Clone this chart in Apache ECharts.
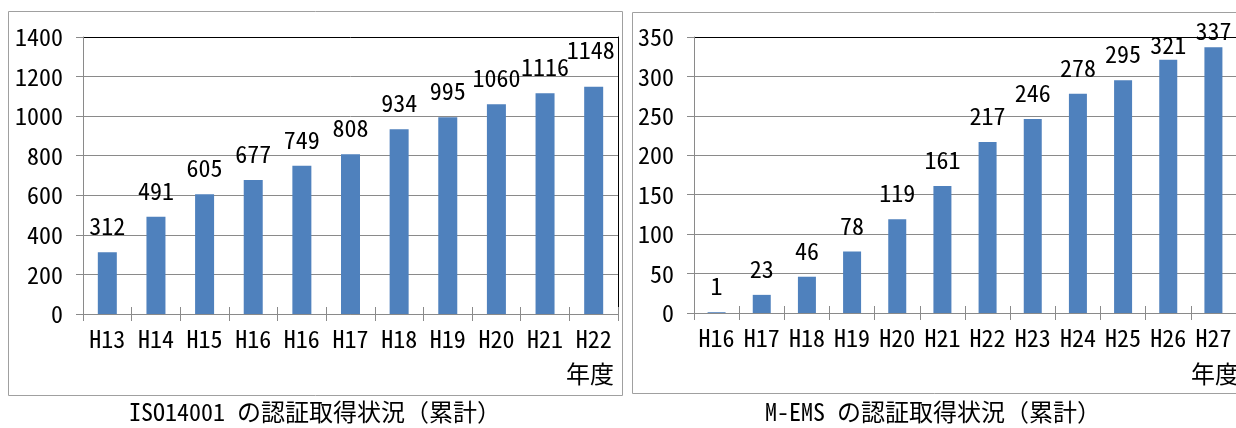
<!DOCTYPE html>
<html>
<head>
<meta charset="utf-8">
<script src="https://cdn.jsdelivr.net/npm/echarts@6/dist/echarts.min.js"></script>
<style>
html,body{margin:0;padding:0;background:#fff;}
#c{width:1236px;height:428px;}
</style>
</head>
<body>
<div id="c"></div>
<script>
// ---- data ----
const isoCategories = ['H13','H14','H15','H16','H16','H17','H18','H19','H20','H21','H22'];
const isoValues = [312, 491, 605, 677, 749, 808, 934, 995, 1060, 1116, 1148];
const isoTicks = [0, 200, 400, 600, 800, 1000, 1200, 1400];

const memsCategories = ['H16','H17','H18','H19','H20','H21','H22','H23','H24','H25','H26','H27'];
const memsValues = [1, 23, 46, 78, 119, 161, 217, 246, 278, 295, 321, 337];
const memsTicks = [0, 50, 100, 150, 200, 250, 300, 350];

const isoTitle = 'ISO14001 の認証取得状況（累計）';
const memsTitle = 'M-EMS の認証取得状況（累計）';
const unitName = '年度';

// ---- styling ----
const FONT = "'Noto Sans Mono CJK JP', 'DejaVu Sans Condensed', 'Noto Sans CJK JP', sans-serif";
const FS = 24;
const BAR = '#4F81BD';
const GRID_C = '#8a8a8a';

function splitColors(n) {
  const arr = [];
  for (let i = 0; i < n; i++) arr.push(i === n - 1 ? '#000000' : GRID_C);
  return arr;
}

function buildSeriesData(values, overrides) {
  return values.map((v, i) => {
    const o = overrides[i];
    return o ? { value: v, label: { offset: o } } : v;
  });
}

const chart = echarts.init(document.getElementById('c'), null, { renderer: 'canvas' });

const grids = [
  { left: 83, top: 37, width: 535, height: 277 },
  { left: 694, top: 37, width: 546, height: 276 }
];

function xAxes(gi, cats) {
  return [
    {
      type: 'category', gridIndex: gi, data: cats, position: 'bottom',
      axisLine: { show: true, lineStyle: { color: GRID_C, width: 1 } },
      axisTick: { show: true, length: 7, lineStyle: { color: GRID_C } },
      axisLabel: { color: '#000', fontSize: FS, fontFamily: FONT, margin: 13, interval: 0 }
    },
    {
      type: 'category', gridIndex: gi, data: cats, position: 'top',
      offset: -grids[gi].height,
      axisLine: { show: false },
      axisTick: { show: true, length: 7, lineStyle: { color: GRID_C } },
      axisLabel: { show: false }
    }
  ];
}

function yAxes(gi, ticks) {
  const step = ticks[1] - ticks[0];
  return [
    {
      type: 'value', gridIndex: gi, position: 'left',
      min: ticks[0], max: ticks[ticks.length - 1], interval: step,
      axisLine: { show: true, lineStyle: { color: GRID_C, width: 1 } },
      axisTick: { show: true, length: 7, lineStyle: { color: GRID_C } },
      axisLabel: { color: '#000', fontSize: FS, fontFamily: FONT, margin: 20,
        formatter: (v) => String(v) },
      splitLine: { show: true, lineStyle: { color: splitColors(ticks.length), width: 1 } }
    },
    {
      type: 'value', gridIndex: gi, position: 'right',
      min: ticks[0], max: ticks[ticks.length - 1], interval: step,
      axisLine: { show: true, lineStyle: { color: '#000', width: 1 } },
      axisTick: { show: false }, axisLabel: { show: false }, splitLine: { show: false }
    }
  ];
}

const labelStyle = {
  show: true, position: 'top', distance: 14,
  color: '#000', fontSize: FS, fontFamily: FONT,
  formatter: (p) => String(p.value)
};

const titleText = { fontSize: 24, fontWeight: 'normal', color: '#000', fontFamily: FONT };

const option = {
  animation: false,
  backgroundColor: '#ffffff',
  grid: grids,
  xAxis: [...xAxes(0, isoCategories), ...xAxes(1, memsCategories)],
  yAxis: [...yAxes(0, isoTicks), ...yAxes(1, memsTicks)],
  title: [
    { text: isoTitle, left: 315, top: 400, padding: 0, textAlign: 'center', textStyle: titleText },
    { text: memsTitle, left: 933, top: 400, padding: 0, textAlign: 'center', textStyle: titleText },
    { text: unitName, left: 566, top: 362, padding: 0, textStyle: titleText },
    { text: unitName, left: 1191, top: 362, padding: 0, textStyle: titleText }
  ],
  graphic: [
    { type: 'rect', shape: { x: 8.5, y: 11.5, width: 614, height: 384 },
      style: { fill: null, stroke: '#a0a0a0', lineWidth: 1 }, silent: true },
    { type: 'rect', shape: { x: 632.5, y: 12.5, width: 640, height: 381 },
      style: { fill: null, stroke: '#a0a0a0', lineWidth: 1 }, silent: true }
  ],
  series: [
    {
      type: 'bar', xAxisIndex: 0, yAxisIndex: 0,
      data: buildSeriesData(isoValues, { 10: [-3, -11] }),
      barWidth: 19, itemStyle: { color: BAR }, label: labelStyle
    },
    {
      type: 'bar', xAxisIndex: 2, yAxisIndex: 2,
      data: buildSeriesData(memsValues, { 10: [0, 11], 11: [0, 10] }),
      barWidth: 18, itemStyle: { color: BAR }, label: labelStyle
    }
  ]
};

chart.setOption(option);
</script>
</body>
</html>
